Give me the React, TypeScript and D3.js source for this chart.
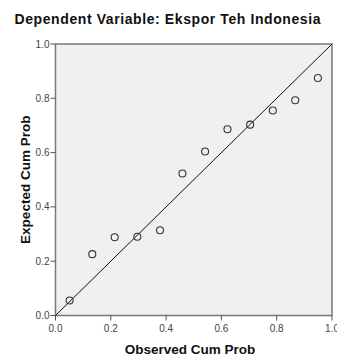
import * as d3 from "d3";

const observed = [0.051, 0.133, 0.214, 0.296, 0.378, 0.459, 0.541, 0.622, 0.704, 0.786, 0.867, 0.949];
const expected = [0.055, 0.226, 0.288, 0.29, 0.314, 0.523, 0.604, 0.686, 0.703, 0.755, 0.793, 0.875];
const ticks = [0, 0.2, 0.4, 0.6, 0.8, 1.0];

const W = 337;
const H = 359;
const left = 55.5;
const right = 332;
const top = 44;
const bottom = 315.5;

export default function App() {
  const x = d3.scaleLinear().domain([0, 1]).range([left, right]);
  const y = d3.scaleLinear().domain([0, 1]).range([bottom, top]);
  const font = "Arial, 'Liberation Sans', sans-serif";

  return (
    <svg width={W} height={H} style={{ position: "absolute", left: 0, top: 0, background: "#fff" }}>
      <text x={167.5} y={24} textAnchor="middle" fontFamily={font} fontWeight="bold" fontSize={14}
        textLength={306} lengthAdjust="spacing" fill="#111">
        Dependent Variable: Ekspor Teh Indonesia
      </text>
      <rect x={left} y={top} width={right - left} height={bottom - top} fill="#f0f0f0" stroke="#7a7a7a" strokeWidth={1.5} />
      <line x1={x(0)} y1={y(0)} x2={x(1)} y2={y(1)} stroke="#111" strokeWidth={1} />
      {observed.map((d, i) => (
        <circle key={i} cx={x(d)} cy={y(expected[i])} r={3.5} fill="none" stroke="#333" strokeWidth={1.1} />
      ))}
      {ticks.map((t) => (
        <g key={"y" + t}>
          <line x1={left - 5} x2={left} y1={y(t)} y2={y(t)} stroke="#555" />
          <text x={left - 6} y={y(t) + 3.5} textAnchor="end" fontFamily={font} fontSize={10} fill="#444">
            {t.toFixed(1)}
          </text>
        </g>
      ))}
      {ticks.map((t) => (
        <g key={"x" + t}>
          <line x1={x(t)} x2={x(t)} y1={bottom} y2={bottom + 5} stroke="#555" />
          <text x={x(t)} y={bottom + 16.5} textAnchor="middle" fontFamily={font} fontSize={10} fill="#444">
            {t.toFixed(1)}
          </text>
        </g>
      ))}
      <text x={190} y={354} textAnchor="middle" fontFamily={font} fontWeight="bold" fontSize={13.5} fill="#111">
        Observed Cum Prob
      </text>
      <text
        transform={`translate(30, ${(top + bottom) / 2}) rotate(-90)`}
        textAnchor="middle"
        fontFamily={font}
        fontWeight="bold"
        fontSize={13.5}
        fill="#111"
      >
        Expected Cum Prob
      </text>
    </svg>
  );
}
